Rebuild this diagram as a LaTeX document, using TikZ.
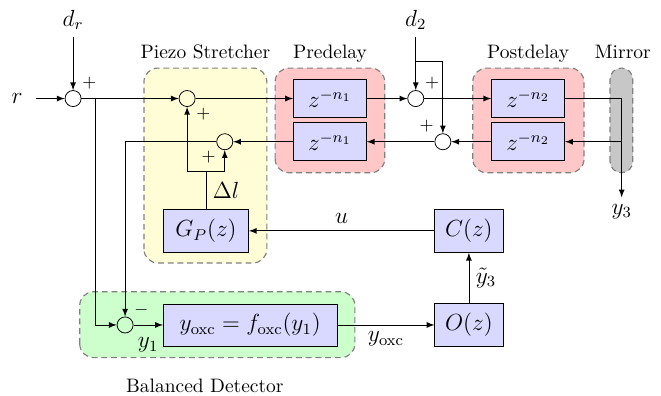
\documentclass[tikz,border=0pt]{standalone}
\usepackage{amssymb,amsmath}
\usetikzlibrary{arrows}

\begin{document}
\begin{tikzpicture}[>=latex, font=\large,
  block/.style={draw, fill=blue!15, minimum width=1.32cm, minimum height=0.69cm},
  sumnode/.style={draw, circle, inner sep=0pt, minimum size=0.29cm},
  sign/.style={font=\small, inner sep=1.5pt},
  area/.style={draw=gray, semithick, dash pattern=on 3pt off 2pt, rounded corners=0.25cm},
  areatitle/.style={anchor=base, font=\normalsize}]

\useasboundingbox (0,0) rectangle (11.94,7.15);

% shaded regions
\draw[area, fill=yellow!16] (2.60,2.40) rectangle (4.82,5.92);
\draw[area, fill=red!22] (4.97,4.03) rectangle (6.95,5.92);
\draw[area, fill=red!22] (8.54,4.03) rectangle (10.55,5.92);
\draw[area, fill=black!22, rounded corners=0.2cm] (11.02,4.03) rectangle (11.43,5.92);
\draw[area, fill=green!20] (1.44,0.69) rectangle (6.41,1.88);

\node[areatitle] (piezo) at (3.71,6.10) {Piezo Stretcher};
\node[areatitle] (predelay) at (5.96,6.10) {Predelay};
\node[areatitle] (postdelay) at (9.54,6.10) {Postdelay};
\node[areatitle] (mirror) at (11.25,6.10) {Mirror};
\node[areatitle] (detector) at (3.70,0.055) {Balanced Detector};

% inputs and outputs
\node (r) at (0.31,5.37) {$r$};
\node (dr) at (1.32,6.79) {$d_r$};
\node (d2) at (7.51,6.79) {$d_2$};
\node (y3) at (11.23,3.33) {$y_3$};

% summing points
\node[sumnode, label={[sign]north east:$+$}] (s1) at (1.32,5.37) {};
\node[sumnode, label={[sign]south east:$+$}] (s2) at (3.38,5.37) {};
\node[sumnode, label={[sign]south west:$+$}] (s3) at (4.06,4.59) {};
\node[sumnode, label={[sign]north east:$-$}, label={south east:$y_1$}] (s4) at (2.26,1.28) {};
\node[sumnode, label={[sign]north east:$+$}] (s5) at (7.51,5.37) {};
\node[sumnode, label={[sign]north west:$+$}] (s6) at (8.00,4.59) {};

% blocks
\node[block] (pre1) at (5.96,5.37) {$z^{-n_1}$};
\node[block] (pre2) at (5.96,4.59) {$z^{-n_1}$};
\node[block] (post1) at (9.54,5.37) {$z^{-n_2}$};
\node[block] (post2) at (9.54,4.59) {$z^{-n_2}$};
\node[block, minimum width=1.54cm, minimum height=0.78cm] (gp) at (3.72,2.98) {$G_P(z)$};
\node[block, minimum width=1.23cm, minimum height=0.78cm] (cz) at (8.47,2.98) {$C(z)$};
\node[block, minimum width=1.23cm, minimum height=0.78cm] (oz) at (8.47,1.28) {$O(z)$};
\node[block, minimum width=3.14cm, minimum height=0.76cm] (oxc) at (4.52,1.28) {$y_\mathrm{oxc} = f_\mathrm{oxc}(y_1)$};

% branch points
\coordinate (b1) at (1.73,5.37);
\coordinate (b2) at (7.51,6.05);
\coordinate (m2) at (11.23,4.59);
\coordinate (dl) at (3.72,4.06);

% forward path
\draw[->, shorten <=0.12cm] (r) -- (s1);
\draw[->] (dr) -- (s1);
\draw[->] (s1) -- (s2);
\draw[->] (s2) -- (pre1);
\draw[->] (pre1) -- (s5);
\draw[->] (d2) -- (s5);
\draw[->] (b2) -| (s6);
\draw[->] (s5) -- (post1);
\draw[->] (post1) -| (y3);

% return path
\draw[->] (m2) -- (post2);
\draw[->] (post2) -- (s6);
\draw[->] (s6) -- (pre2);
\draw[->] (pre2) -- (s3);
\draw[->] (s3) -| (s4);
\draw[->] (b1) |- (s4);

% control loop
\draw (gp) -- node[right] {$\Delta l$} (dl);
\draw[->] (dl) -| (s2);
\draw[->] (dl) -| (s3);
\draw[->] (s4) -- (oxc);
\draw[->] (oxc) -- node[below] {$y_\mathrm{oxc}$} (oz);
\draw[->] (oz) -- node[right] {$\tilde{y}_3$} (cz);
\draw[->] (cz) -- node[above] {$u$} (gp);
\end{tikzpicture}
\end{document}
